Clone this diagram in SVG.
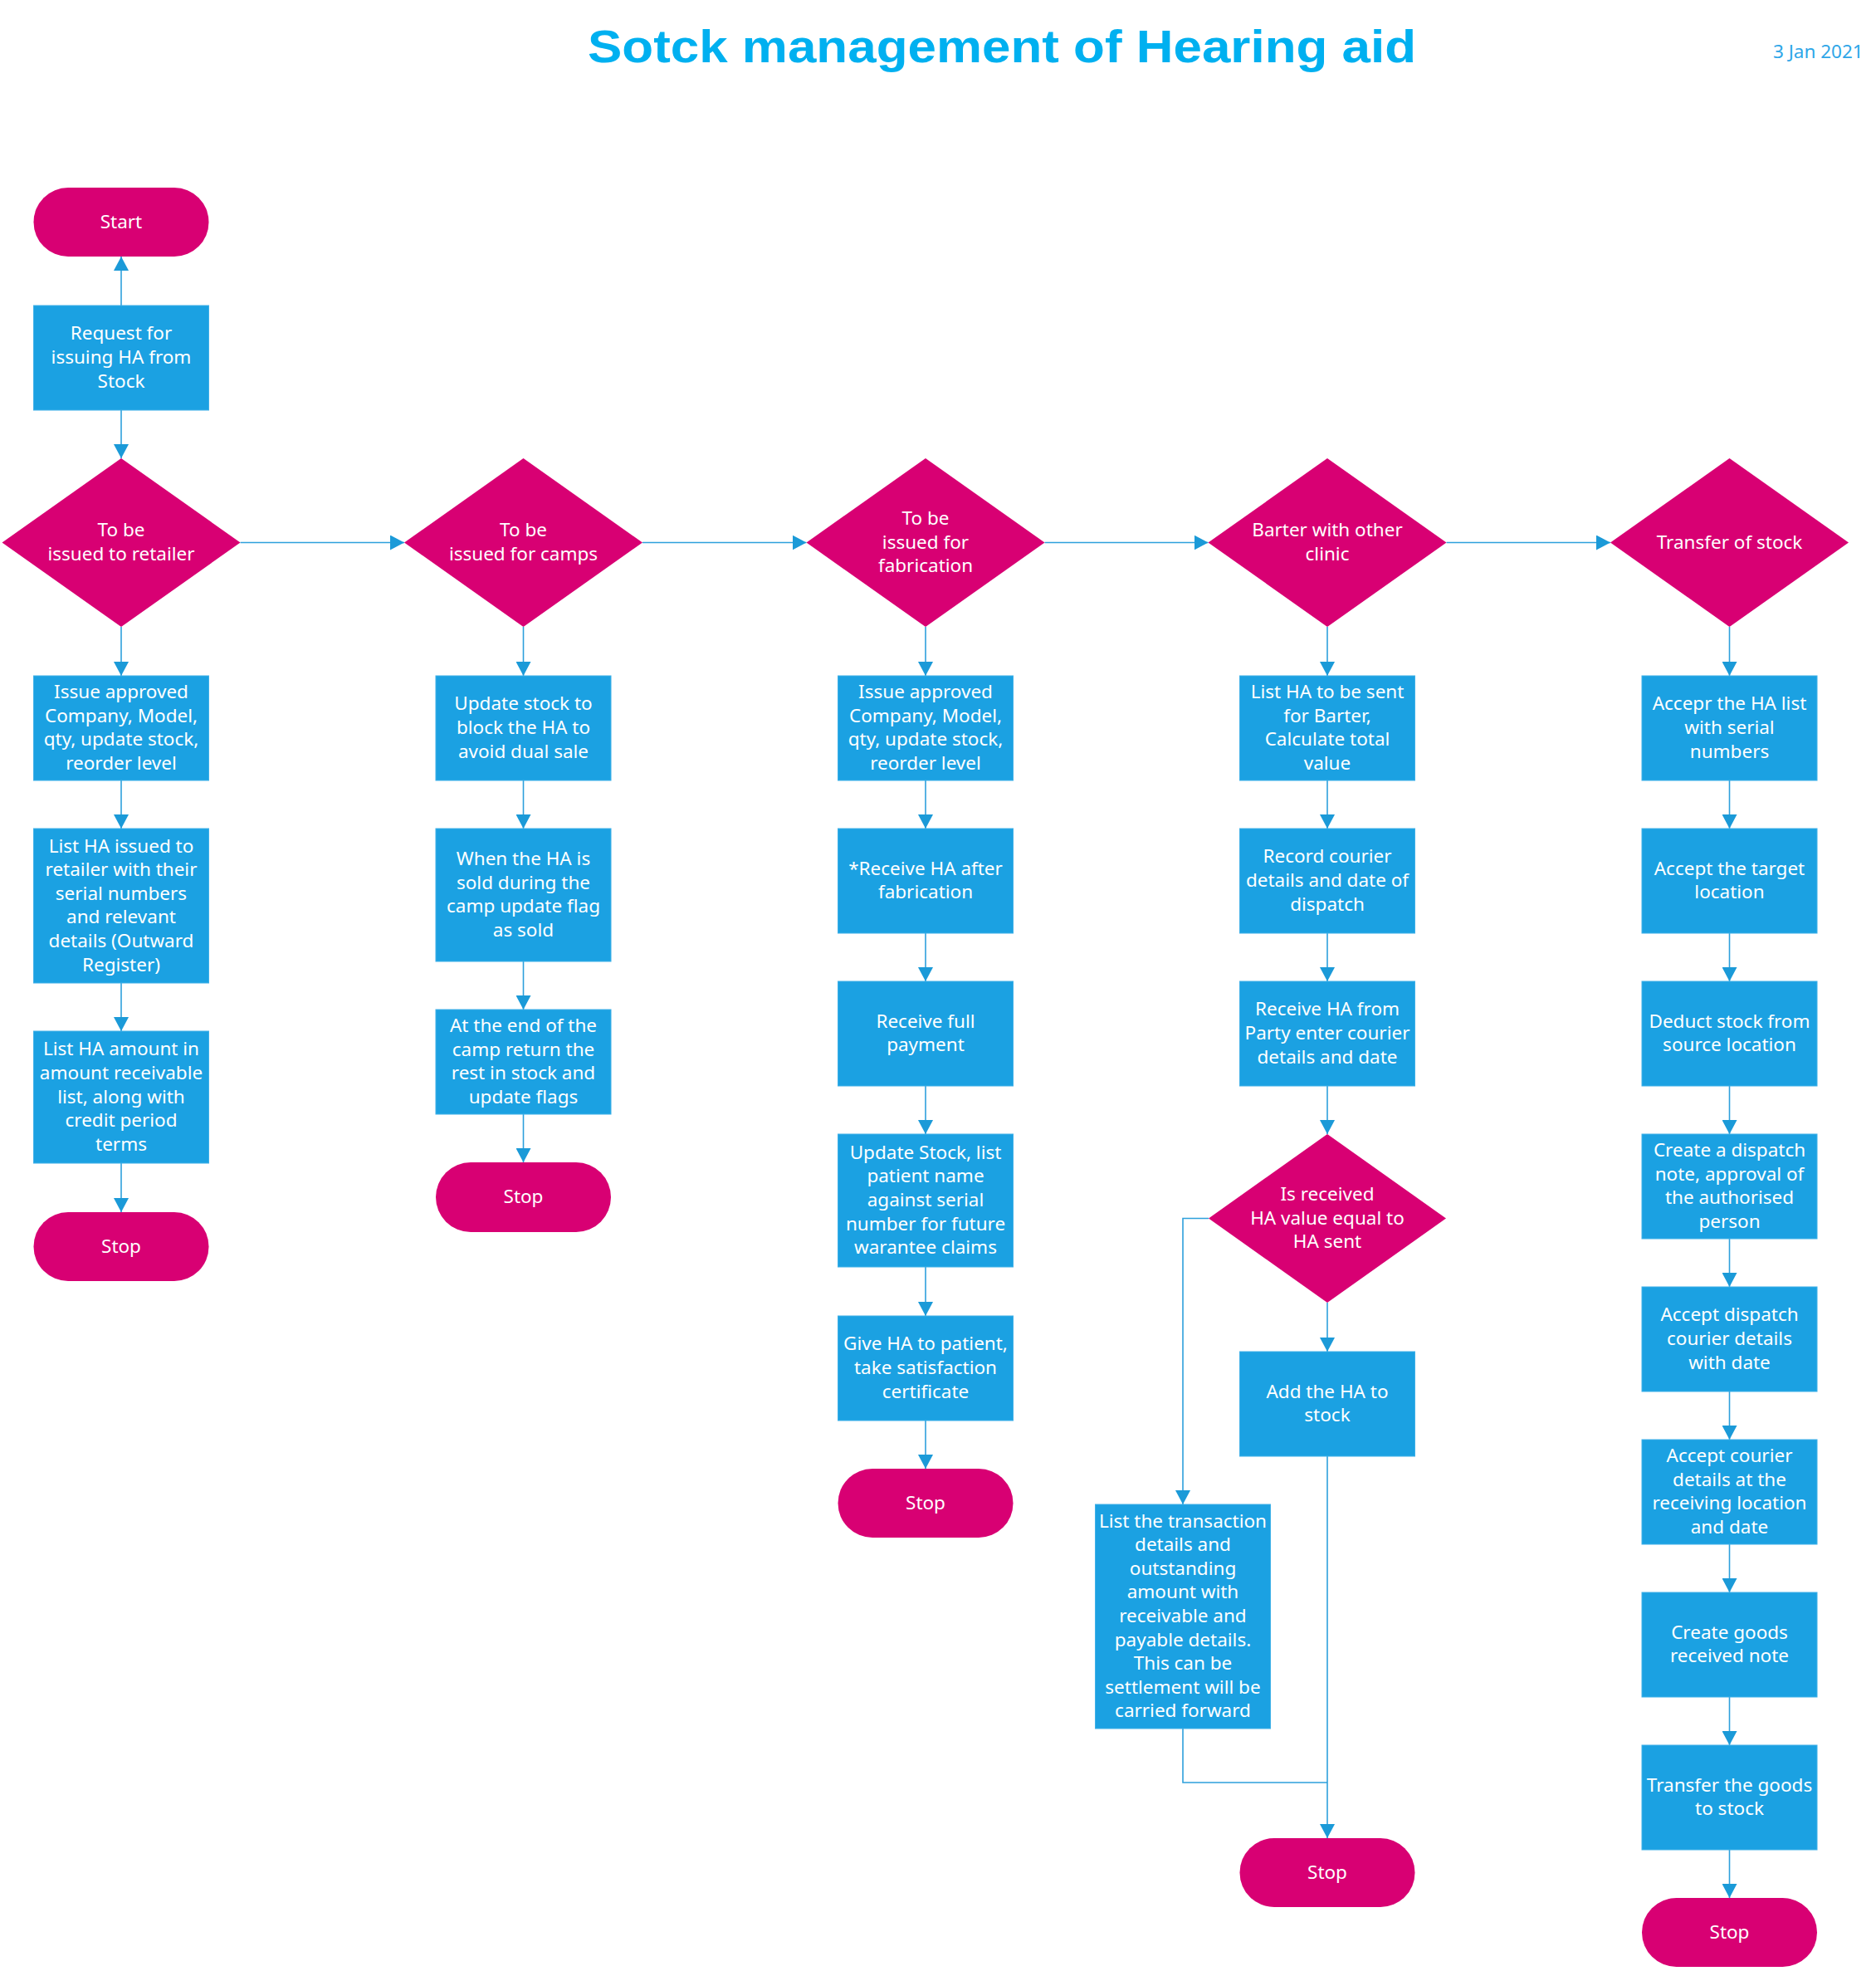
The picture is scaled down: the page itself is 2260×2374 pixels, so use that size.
<svg xmlns="http://www.w3.org/2000/svg" width="2260" height="2374" viewBox="0 0 2260 2374">
<style>
.box{fill:#1BA1E2;stroke:#3FB0E8;stroke-width:1}
.term{fill:#D80073}
.dec{fill:#D80073}
.t{font-family:"Noto Sans","Open Sans","DejaVu Sans",sans-serif;font-size:22.5px;fill:#FFFFFF;text-anchor:middle}
.c{fill:none;stroke:#2EA0DC;stroke-width:1.6}
.title{font-family:"Liberation Sans",Arial,sans-serif;font-weight:bold;font-size:56px;fill:#00B0F0;text-anchor:middle}
.date{font-family:"Noto Sans","Open Sans",sans-serif;font-size:22.5px;fill:#2EA6E8}
</style>
<defs>
<marker id="ah" markerUnits="userSpaceOnUse" markerWidth="18" markerHeight="18" refX="17" refY="9" orient="auto">
<path d="M0,0 L17,9 L0,18 Z" fill="#1B9AD8"/>
</marker>
</defs>
<rect width="2260" height="2374" fill="#FFFFFF"/>
<text class="title" x="1207" y="75" textLength="998" lengthAdjust="spacingAndGlyphs">Sotck management of Hearing aid</text>
<text class="date" x="2136" y="70">3 Jan 2021</text>

<g id="connectors">
<path class="c" marker-end="url(#ah)" d="M146,368 L146,309"/>
<path class="c" marker-end="url(#ah)" d="M146,494 L146,552"/>
<path class="c" marker-end="url(#ah)" d="M289.5,653.5 L487,653.5"/>
<path class="c" marker-end="url(#ah)" d="M774,653.5 L971.5,653.5"/>
<path class="c" marker-end="url(#ah)" d="M1258.5,653.5 L1455.5,653.5"/>
<path class="c" marker-end="url(#ah)" d="M1742.5,653.5 L1940,653.5"/>
<path class="c" marker-end="url(#ah)" d="M146,755 L146,814"/>
<path class="c" marker-end="url(#ah)" d="M630.5,755 L630.5,814"/>
<path class="c" marker-end="url(#ah)" d="M1115,755 L1115,814"/>
<path class="c" marker-end="url(#ah)" d="M1599,755 L1599,814"/>
<path class="c" marker-end="url(#ah)" d="M2083.5,755 L2083.5,814"/>
<path class="c" marker-end="url(#ah)" d="M146,940 L146,998"/>
<path class="c" marker-end="url(#ah)" d="M146,1184 L146,1242"/>
<path class="c" marker-end="url(#ah)" d="M146,1401 L146,1460"/>
<path class="c" marker-end="url(#ah)" d="M630.5,940 L630.5,998"/>
<path class="c" marker-end="url(#ah)" d="M630.5,1158 L630.5,1216"/>
<path class="c" marker-end="url(#ah)" d="M630.5,1342 L630.5,1400"/>
<path class="c" marker-end="url(#ah)" d="M1115,940 L1115,998"/>
<path class="c" marker-end="url(#ah)" d="M1115,1124 L1115,1182"/>
<path class="c" marker-end="url(#ah)" d="M1115,1308 L1115,1366"/>
<path class="c" marker-end="url(#ah)" d="M1115,1526 L1115,1585"/>
<path class="c" marker-end="url(#ah)" d="M1115,1711 L1115,1769"/>
<path class="c" marker-end="url(#ah)" d="M1599,940 L1599,998"/>
<path class="c" marker-end="url(#ah)" d="M1599,1124 L1599,1182"/>
<path class="c" marker-end="url(#ah)" d="M1599,1308 L1599,1366"/>
<path class="c" marker-end="url(#ah)" d="M1599,1569 L1599,1628"/>
<path class="c" marker-end="url(#ah)" d="M1599,1754 L1599,2214"/>
<path class="c" marker-end="url(#ah)" d="M1456,1467.5 L1425,1467.5 L1425,1812"/>
<path class="c" d="M1425,2082 L1425,2147 L1599,2147"/>
<path class="c" marker-end="url(#ah)" d="M2083.5,940 L2083.5,998"/>
<path class="c" marker-end="url(#ah)" d="M2083.5,1124 L2083.5,1182"/>
<path class="c" marker-end="url(#ah)" d="M2083.5,1308 L2083.5,1366"/>
<path class="c" marker-end="url(#ah)" d="M2083.5,1492 L2083.5,1550"/>
<path class="c" marker-end="url(#ah)" d="M2083.5,1676 L2083.5,1734"/>
<path class="c" marker-end="url(#ah)" d="M2083.5,1860 L2083.5,1918"/>
<path class="c" marker-end="url(#ah)" d="M2083.5,2044 L2083.5,2102"/>
<path class="c" marker-end="url(#ah)" d="M2083.5,2228 L2083.5,2286"/>
</g>

<!-- Column 1 -->
<g id="start"><rect class="term" x="40.5" y="226" width="211" height="83" rx="41.5"/><text class="t" x="146" y="274.5">Start</text></g>
<g id="request"><rect class="box" x="40.5" y="368" width="211" height="126"/><text class="t" x="146" y="409.4">Request for<tspan x="146" dy="28.6">issuing HA from</tspan><tspan x="146" dy="28.6">Stock</tspan></text></g>
<g id="d1"><polygon class="dec" points="146,552 289.5,653.5 146,755 2.5,653.5"/><text class="t" x="146" y="646.2">To be<tspan x="146" dy="28.6">issued to retailer</tspan></text></g>
<g id="c1r1"><rect class="box" x="40.5" y="814" width="211" height="126"/><text class="t" x="146" y="841.1">Issue approved<tspan x="146" dy="28.6">Company, Model,</tspan><tspan x="146" dy="28.6">qty, update stock,</tspan><tspan x="146" dy="28.6">reorder level</tspan></text></g>
<g id="c1r2"><rect class="box" x="40.5" y="998" width="211" height="186"/><text class="t" x="146" y="1026.5">List HA issued to<tspan x="146" dy="28.6">retailer with their</tspan><tspan x="146" dy="28.6">serial numbers</tspan><tspan x="146" dy="28.6">and relevant</tspan><tspan x="146" dy="28.6">details (Outward</tspan><tspan x="146" dy="28.6">Register)</tspan></text></g>
<g id="c1r3"><rect class="box" x="40.5" y="1242" width="211" height="159"/><text class="t" x="146" y="1271.3">List HA amount in<tspan x="146" dy="28.6">amount receivable</tspan><tspan x="146" dy="28.6">list, along with</tspan><tspan x="146" dy="28.6">credit period</tspan><tspan x="146" dy="28.6">terms</tspan></text></g>
<g id="c1stop"><rect class="term" x="40.5" y="1460" width="211" height="83" rx="41.5"/><text class="t" x="146" y="1508.5">Stop</text></g>

<!-- Column 2 -->
<g id="d2"><polygon class="dec" points="630.5,552 774,653.5 630.5,755 487,653.5"/><text class="t" x="630.5" y="646.2">To be<tspan x="630.5" dy="28.6">issued for camps</tspan></text></g>
<g id="c2r1"><rect class="box" x="525" y="814" width="211" height="126"/><text class="t" x="630.5" y="855.4">Update stock to<tspan x="630.5" dy="28.6">block the HA to</tspan><tspan x="630.5" dy="28.6">avoid dual sale</tspan></text></g>
<g id="c2r2"><rect class="box" x="525" y="998" width="211" height="160"/><text class="t" x="630.5" y="1042.1">When the HA is<tspan x="630.5" dy="28.6">sold during the</tspan><tspan x="630.5" dy="28.6">camp update flag</tspan><tspan x="630.5" dy="28.6">as sold</tspan></text></g>
<g id="c2r3"><rect class="box" x="525" y="1216" width="211" height="126"/><text class="t" x="630.5" y="1243.1">At the end of the<tspan x="630.5" dy="28.6">camp return the</tspan><tspan x="630.5" dy="28.6">rest in stock and</tspan><tspan x="630.5" dy="28.6">update flags</tspan></text></g>
<g id="c2stop"><rect class="term" x="525" y="1400" width="211" height="84" rx="42"/><text class="t" x="630.5" y="1449">Stop</text></g>

<!-- Column 3 -->
<g id="d3"><polygon class="dec" points="1115,552 1258.5,653.5 1115,755 971.5,653.5"/><text class="t" x="1115" y="631.9">To be<tspan x="1115" dy="28.6">issued for</tspan><tspan x="1115" dy="28.6">fabrication</tspan></text></g>
<g id="c3r1"><rect class="box" x="1009.5" y="814" width="211" height="126"/><text class="t" x="1115" y="841.1">Issue approved<tspan x="1115" dy="28.6">Company, Model,</tspan><tspan x="1115" dy="28.6">qty, update stock,</tspan><tspan x="1115" dy="28.6">reorder level</tspan></text></g>
<g id="c3r2"><rect class="box" x="1009.5" y="998" width="211" height="126"/><text class="t" x="1115" y="1053.7">*Receive HA after<tspan x="1115" dy="28.6">fabrication</tspan></text></g>
<g id="c3r3"><rect class="box" x="1009.5" y="1182" width="211" height="126"/><text class="t" x="1115" y="1237.7">Receive full<tspan x="1115" dy="28.6">payment</tspan></text></g>
<g id="c3r4"><rect class="box" x="1009.5" y="1366" width="211" height="160"/><text class="t" x="1115" y="1395.8">Update Stock, list<tspan x="1115" dy="28.6">patient name</tspan><tspan x="1115" dy="28.6">against serial</tspan><tspan x="1115" dy="28.6">number for future</tspan><tspan x="1115" dy="28.6">warantee claims</tspan></text></g>
<g id="c3r5"><rect class="box" x="1009.5" y="1585" width="211" height="126"/><text class="t" x="1115" y="1626.4">Give HA to patient,<tspan x="1115" dy="28.6">take satisfaction</tspan><tspan x="1115" dy="28.6">certificate</tspan></text></g>
<g id="c3stop"><rect class="term" x="1009.5" y="1769" width="211" height="83" rx="41.5"/><text class="t" x="1115" y="1817.5">Stop</text></g>

<!-- Column 4 -->
<g id="d4"><polygon class="dec" points="1599,552 1742.5,653.5 1599,755 1455.5,653.5"/><text class="t" x="1599" y="646.2">Barter with other<tspan x="1599" dy="28.6">clinic</tspan></text></g>
<g id="c4r1"><rect class="box" x="1493.5" y="814" width="211" height="126"/><text class="t" x="1599" y="841.1">List HA to be sent<tspan x="1599" dy="28.6">for Barter,</tspan><tspan x="1599" dy="28.6">Calculate total</tspan><tspan x="1599" dy="28.6">value</tspan></text></g>
<g id="c4r2"><rect class="box" x="1493.5" y="998" width="211" height="126"/><text class="t" x="1599" y="1039.4">Record courier<tspan x="1599" dy="28.6">details and date of</tspan><tspan x="1599" dy="28.6">dispatch</tspan></text></g>
<g id="c4r3"><rect class="box" x="1493.5" y="1182" width="211" height="126"/><text class="t" x="1599" y="1223.4">Receive HA from<tspan x="1599" dy="28.6">Party enter courier</tspan><tspan x="1599" dy="28.6">details and date</tspan></text></g>
<g id="d4b"><polygon class="dec" points="1599,1366 1742,1467.5 1599,1569 1456,1467.5"/><text class="t" x="1599" y="1445.9">Is received<tspan x="1599" dy="28.6">HA value equal to</tspan><tspan x="1599" dy="28.6">HA sent</tspan></text></g>
<g id="c4add"><rect class="box" x="1493.5" y="1628" width="211" height="126"/><text class="t" x="1599" y="1683.7">Add the HA to<tspan x="1599" dy="28.6">stock</tspan></text></g>
<g id="c4list"><rect class="box" x="1319.5" y="1812" width="211" height="270"/><text class="t" x="1425" y="1839.6">List the transaction<tspan x="1425" dy="28.6">details and</tspan><tspan x="1425" dy="28.6">outstanding</tspan><tspan x="1425" dy="28.6">amount with</tspan><tspan x="1425" dy="28.6">receivable and</tspan><tspan x="1425" dy="28.6">payable details.</tspan><tspan x="1425" dy="28.6">This can be</tspan><tspan x="1425" dy="28.6">settlement will be</tspan><tspan x="1425" dy="28.6">carried forward</tspan></text></g>
<g id="c4stop"><rect class="term" x="1493.5" y="2214" width="211" height="83" rx="41.5"/><text class="t" x="1599" y="2262.5">Stop</text></g>

<!-- Column 5 -->
<g id="d5"><polygon class="dec" points="2083.5,552 2227,653.5 2083.5,755 1940,653.5"/><text class="t" x="2083.5" y="660.5">Transfer of stock</text></g>
<g id="c5r1"><rect class="box" x="1978" y="814" width="211" height="126"/><text class="t" x="2083.5" y="855.4">Accepr the HA list<tspan x="2083.5" dy="28.6">with serial</tspan><tspan x="2083.5" dy="28.6">numbers</tspan></text></g>
<g id="c5r2"><rect class="box" x="1978" y="998" width="211" height="126"/><text class="t" x="2083.5" y="1053.7">Accept the target<tspan x="2083.5" dy="28.6">location</tspan></text></g>
<g id="c5r3"><rect class="box" x="1978" y="1182" width="211" height="126"/><text class="t" x="2083.5" y="1237.7">Deduct stock from<tspan x="2083.5" dy="28.6">source location</tspan></text></g>
<g id="c5r4"><rect class="box" x="1978" y="1366" width="211" height="126"/><text class="t" x="2083.5" y="1393.1">Create a dispatch<tspan x="2083.5" dy="28.6">note, approval of</tspan><tspan x="2083.5" dy="28.6">the authorised</tspan><tspan x="2083.5" dy="28.6">person</tspan></text></g>
<g id="c5r5"><rect class="box" x="1978" y="1550" width="211" height="126"/><text class="t" x="2083.5" y="1591.4">Accept dispatch<tspan x="2083.5" dy="28.6">courier details</tspan><tspan x="2083.5" dy="28.6">with date</tspan></text></g>
<g id="c5r6"><rect class="box" x="1978" y="1734" width="211" height="126"/><text class="t" x="2083.5" y="1761.1">Accept courier<tspan x="2083.5" dy="28.6">details at the</tspan><tspan x="2083.5" dy="28.6">receiving location</tspan><tspan x="2083.5" dy="28.6">and date</tspan></text></g>
<g id="c5r7"><rect class="box" x="1978" y="1918" width="211" height="126"/><text class="t" x="2083.5" y="1973.7">Create goods<tspan x="2083.5" dy="28.6">received note</tspan></text></g>
<g id="c5r8"><rect class="box" x="1978" y="2102" width="211" height="126"/><text class="t" x="2083.5" y="2157.7">Transfer the goods<tspan x="2083.5" dy="28.6">to stock</tspan></text></g>
<g id="c5stop"><rect class="term" x="1978" y="2286" width="211" height="83" rx="41.5"/><text class="t" x="2083.5" y="2334.5">Stop</text></g>
</svg>
